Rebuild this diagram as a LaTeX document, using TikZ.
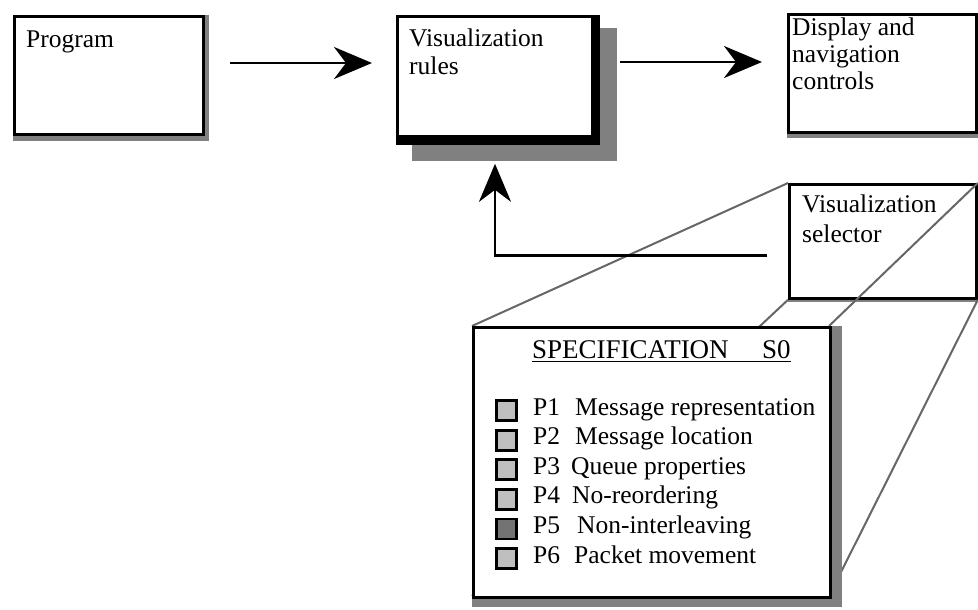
\documentclass[tikz,border=0pt]{standalone}
\usepackage{fontspec}
\setmainfont{Liberation Serif}
\usetikzlibrary{arrows.meta,calc}
\tikzset{
  box/.style={draw=black, line width=2.8pt, fill=white, rectangle, inner sep=0pt, anchor=north west},
  shadowfill/.style={fill=black!50},
  txt/.style={inner sep=0pt, anchor=base west, font=\fontsize{25.5}{29}\selectfont},
  ttl/.style={inner sep=0pt, anchor=base west, font=\fontsize{27}{30}\selectfont},
  arr/.style={line width=2.8pt, -{Stealth[length=38pt,width=32pt,inset=12pt]}},
  persp/.style={draw=black!60, line width=2pt},
  sq/.style={draw=black, line width=2.8pt, fill=black!25, minimum size=20pt, inner sep=0pt},
  sqdark/.style={sq, fill=black!55},
}
\begin{document}
\begin{tikzpicture}[x=1pt,y=-1pt]
\clip (0,0) rectangle (978,610);
\fill[white] (0,0) rectangle (978,610);

% Program
\fill[shadowfill] (13,15) rectangle (209,141);
\node[box, minimum width=189pt, minimum height=118pt] (prog) at (13,15) {};
\node[txt] (progt) at (26,48) {Program};

% Visualization rules
\fill[shadowfill] (412,28) rectangle (617,161);
\node[box, minimum width=201pt, minimum height=127pt] (rules) at (396,15) {};
\fill[black] ($(rules.north east)+(-9,0)$) rectangle (rules.south east);
\fill[black] ($(rules.south west)+(0,-10)$) rectangle (rules.south east);
\node[txt] (rulesa) at (409,47) {Visualization};
\node[txt] (rulesb) at (409,75) {rules};

% Display and navigation controls
\fill[shadowfill] (787,13) rectangle (984,138);
\node[box, minimum width=188pt, minimum height=118pt] (disp) at (787,13) {};
\node[txt] (dispa) at (792,36) {Display and};
\node[txt] (dispb) at (792,63) {navigation};
\node[txt] (dispc) at (792,90) {controls};

% Visualization selector
\fill[shadowfill] (788,183) rectangle (984,302);
\node[box, minimum width=187pt, minimum height=114pt] (sel) at (788,183) {};
\node[txt] (sela) at (802,212) {Visualization};
\node[txt] (selb) at (802,242) {selector};

% perspective lines
\draw[persp] (sel.north west) -- (472,326);
\draw[persp] (sel.north east) -- (829,326);
\draw[persp] (sel.south west) -- (472,596);
\draw[persp] (sel.south east) -- (829,596);

% Specification box
\fill[shadowfill] (472,326) rectangle (842,607);
\node[box, minimum width=357pt, minimum height=270pt] (spec) at (472,326) {};
\node[ttl] (ttla) at (532,358) {SPECIFICATION};
\node[ttl] (ttlb) at (762,358) {S0};
\draw[line width=1.5pt] ($(ttla.base west)+(0,3.5)$) -- ($(ttlb.base east)+(0,3.5)$);

\node[sq] (sq1) at (506.5,410.5) {};
\node[sq] (sq2) at (506.5,440.1) {};
\node[sq] (sq3) at (506.5,469.7) {};
\node[sq] (sq4) at (506.5,499.3) {};
\node[sqdark] (sq5) at (506.5,528.9) {};
\node[sq] (sq6) at (506.5,558.5) {};

\node[txt] (p1) at (533,415) {P1};
\node[txt] (p1t) at (575,415) {Message representation};
\node[txt] (p2) at (533,444.6) {P2};
\node[txt] (p2t) at (575,444.6) {Message location};
\node[txt] (p3) at (533,474.2) {P3};
\node[txt] (p3t) at (571,474.2) {Queue properties};
\node[txt] (p4) at (533,503.8) {P4};
\node[txt] (p4t) at (572,503.8) {No-reordering};
\node[txt] (p5) at (533,533.4) {P5};
\node[txt] (p5t) at (577,533.4) {Non-interleaving};
\node[txt] (p6) at (533,563) {P6};
\node[txt] (p6t) at (574,563) {Packet movement};

% connectors
\coordinate (a1s) at ($(prog.north east)+(25,48)$);
\coordinate (a1e) at ($(rules.north west)+(-24,48)$);
\draw[arr] (a1s) -- (a1e);
\coordinate (a2s) at ($(rules.north east)+(20,47)$);
\coordinate (a2e) at ($(disp.north west)+(-25,49)$);
\draw[arr] (a2s) -- (a2e);
\coordinate (fbs) at ($(sel.south west)+(-21,-44)$);
\coordinate (fbe) at ($(rules.south west)+(99,19)$);
\draw[arr] (fbs) -| (fbe);
\end{tikzpicture}
\end{document}
